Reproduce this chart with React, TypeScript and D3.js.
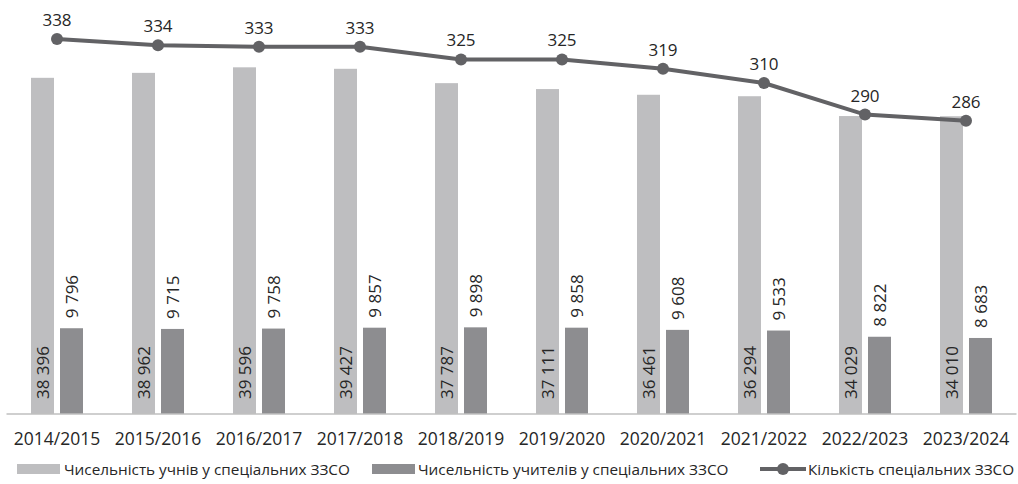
import React from "react";
import * as d3 from "d3";

const categories = ["2014/2015","2015/2016","2016/2017","2017/2018","2018/2019","2019/2020","2020/2021","2021/2022","2022/2023","2023/2024"];
const students = [38396, 38962, 39596, 39427, 37787, 37111, 36461, 36294, 34029, 34010];
const teachers = [9796, 9715, 9758, 9857, 9898, 9858, 9608, 9533, 8822, 8683];
const schools = [338, 334, 333, 333, 325, 325, 319, 310, 290, 286];
const seriesNames = ["Чисельність учнів у спеціальних ЗЗСО", "Чисельність учителів у спеціальних ЗЗСО", "Кількість спеціальних ЗЗСО"];

const W = 1018, H = 484;
const left = 6.5, right = 1016.5, top = 20, bottom = 414;
const cLight = "#bebec0", cDark = "#8d8d90", cLine = "#626265", cText = "#262626";
const font = "'Open Sans', sans-serif";

const fmt = (v: number) => d3.format(",")(v).replace(/,/g, " ");

export default function App() {
  const x = d3.scaleBand<string>().domain(categories).range([left, right]);
  const y1 = d3.scaleLinear().domain([0, 45000]).range([bottom, top]);
  const y2 = d3.scaleLinear().domain([100, 350]).range([bottom, top]);
  const bw = 23, gap = 6;
  const cx = (c: string) => (x(c) as number) + x.bandwidth() / 2;
  const line = d3.line<number>().x((_, i) => cx(categories[i])).y((d) => y2(d));
  const ly = 469;

  return (
    <svg width={W} height={H} style={{ position: "fixed", left: 0, top: 0, background: "#fff" }} fontFamily={font}>
      {categories.map((c, i) => {
        const xs = cx(c) - gap / 2 - bw;
        const xt = cx(c) + gap / 2;
        return (
          <g key={c}>
            <rect x={xs} y={y1(students[i])} width={bw} height={bottom - y1(students[i])} fill={cLight} />
            <rect x={xt} y={y1(teachers[i])} width={bw} height={bottom - y1(teachers[i])} fill={cDark} />
            <text transform={`translate(${xs + bw / 2 + 6},${bottom - 15}) rotate(-90)`} fontSize={17} fill={cText} textAnchor="start">{fmt(students[i])}</text>
            <text transform={`translate(${xt + bw / 2 + 6},${y1(teachers[i]) - 10}) rotate(-90)`} fontSize={17} fill={cText} textAnchor="start">{fmt(teachers[i])}</text>
            <text x={cx(c)} y={bottom + 31} fontSize={17.5} fill={cText} textAnchor="middle">{c}</text>
          </g>
        );
      })}
      <line x1={left} x2={right} y1={bottom} y2={bottom} stroke="#bfbfbf" strokeWidth={1.5} />
      <path d={line(schools) || ""} fill="none" stroke={cLine} strokeWidth={4} />
      {schools.map((v, i) => (
        <g key={i}>
          <circle cx={cx(categories[i])} cy={y2(v)} r={6} fill={cLine} />
          <text x={cx(categories[i])} y={y2(v) - 13} fontSize={17} fill={cText} textAnchor="middle">{v}</text>
        </g>
      ))}
      <g fontSize={15.3} fill={cText}>
        <rect x={17} y={ly - 5} width={43} height={10} fill={cLight} />
        <text x={64} y={ly + 5.5}>{seriesNames[0]}</text>
        <rect x={372} y={ly - 5} width={43} height={10} fill={cDark} />
        <text x={418} y={ly + 5.5}>{seriesNames[1]}</text>
        <line x1={760} x2={806} y1={ly} y2={ly} stroke={cLine} strokeWidth={4} />
        <circle cx={783} cy={ly} r={6} fill={cLine} />
        <text x={808} y={ly + 5.5}>{seriesNames[2]}</text>
      </g>
    </svg>
  );
}
